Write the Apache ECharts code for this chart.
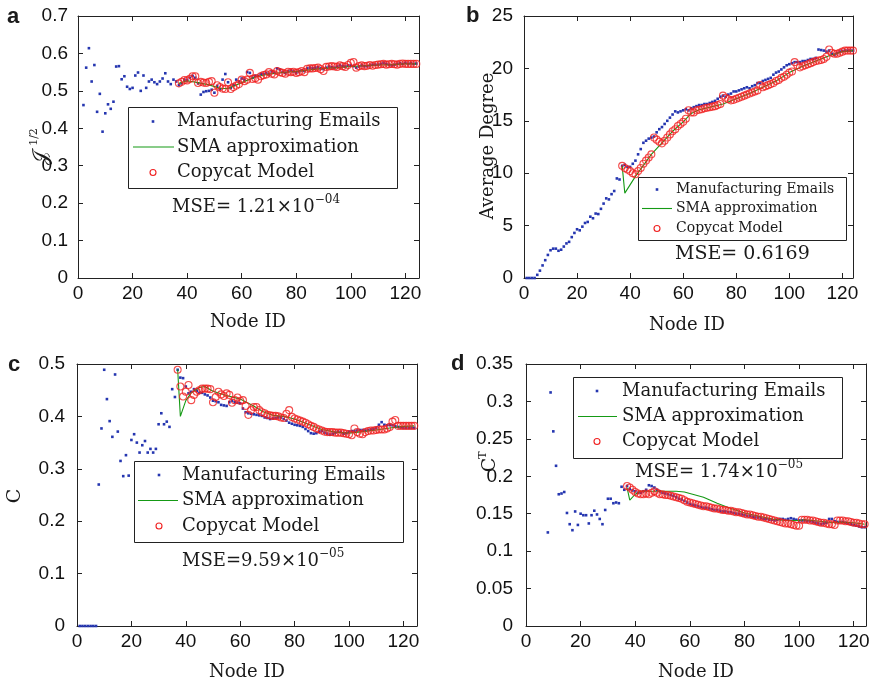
<!DOCTYPE html>
<html><head><meta charset="utf-8">
<script src="https://cdn.jsdelivr.net/npm/echarts@6/dist/echarts.min.js"></script>
<style>html,body{margin:0;padding:0;background:#fff}#c{width:873px;height:685px}</style>
</head><body><div id="c"></div>
<script>
// ---------- Panel a : J^{1/2} ----------
const aEmailStart = 2;
const aEmails = [0.462,0.562,0.614,0.525,0.569,0.444,0.492,0.391,0.440,0.464,0.452,0.471,0.565,0.566,0.531,0.539,0.511,0.505,0.508,0.541,0.549,0.500,0.541,0.508,0.525,0.530,0.523,0.518,0.525,0.533,0.547,0.525,0.518,0.530,0.525,
  0.515,0.520,0.530,0.528,0.535,0.540,0.535,0.520,0.490,0.497,
  0.499,0.500,0.503,0.495,0.513,0.505,0.530,0.545,0.523,0.508,
  0.515,0.530,0.525,0.533,0.530,0.550,0.548,0.535,0.540,0.540,
  0.545,0.545,0.548,0.545,0.552,0.548,0.560,0.557,0.550,0.548,
  0.552,0.555,0.552,0.548,0.552,0.555,0.553,0.560,0.562,0.560,
  0.562,0.563,0.560,0.558,0.562,0.565,0.563,0.562,0.565,0.568,
  0.566,0.565,0.568,0.568,0.566,0.562,0.565,0.568,0.566,0.566,
  0.568,0.570,0.570,0.570,0.572,0.575,0.572,0.570,0.568,0.570,
  0.572,0.574,0.572,0.575,0.572,0.574,0.572,0.573];
const aCopyStart = 37;
const aCopycat = [0.520,0.524,0.529,0.528,0.532,0.539,0.539,0.521,0.524,0.522,
  0.521,0.524,0.526,0.495,0.515,0.510,0.506,0.505,0.523,0.505,
  0.510,0.514,0.518,0.530,0.526,0.530,0.548,0.532,0.534,0.530,
  0.539,0.542,0.544,0.550,0.546,0.544,0.553,0.550,0.548,0.546,
  0.551,0.550,0.551,0.548,0.550,0.553,0.550,0.559,0.560,0.560,
  0.561,0.562,0.558,0.553,0.564,0.565,0.566,0.565,0.564,0.568,
  0.566,0.564,0.569,0.575,0.577,0.562,0.566,0.568,0.566,0.567,
  0.569,0.567,0.569,0.570,0.571,0.572,0.570,0.571,0.572,0.571,
  0.570,0.572,0.573,0.572,0.572,0.572,0.572,0.572];
const aSmaNodes = [37,40,44,48,52,55,60,65,70,75,80,85,90,95,100,105,110,115,120,124];
const aSma = [0.520,0.527,0.522,0.516,0.507,0.506,0.522,0.537,0.545,0.549,0.552,0.556,0.560,0.562,0.565,0.567,0.569,0.570,0.572,0.572];

// ---------- Panel b : Average Degree ----------
const bEmailStart = 1;
const bEmails = [0,0,0,0,
  0.3,0.7,1.2,1.7,2.2,2.65,2.8,2.8,2.6,2.7,
  3.0,3.3,3.45,3.9,4.3,4.65,4.55,4.9,5.25,5.35,
  5.85,5.7,6.15,6.1,6.6,7.1,7.6,7.5,8.0,8.3,
  9.5,9.4,10.7,10.8,10.6,10.6,10.9,11.2,11.8,12.3,
  12.9,13.1,13.3,13.4,13.5,13.9,14.2,14.4,14.7,15.0,
  15.3,15.6,15.9,15.8,15.9,16.0,16.1,16.0,16.2,16.3,
  16.4,16.5,16.5,16.6,16.6,16.7,16.8,16.9,17.1,17.3,
  17.4,17.3,17.5,17.6,17.8,17.8,17.9,18.0,18.1,18.2,
  18.1,18.3,18.4,18.6,18.6,18.8,18.9,19.0,19.1,19.4,
  19.6,19.7,19.9,20.1,20.3,20.4,20.5,20.6,20.6,20.6,
  20.7,20.7,20.8,20.9,20.9,21.0,21.8,21.75,21.7,21.6,
  21.7,21.4,21.3,21.45,21.6,21.65,21.7,21.7,21.7,21.7];
const bCopyStart = 37;
const bCopycat = [10.7,10.5,10.35,10.2,10.0,9.9,10.2,10.5,10.9,11.2,
  11.5,11.8,13.4,13.2,13.0,12.85,13.1,13.4,13.7,14.0,
  14.2,14.5,14.7,14.9,15.2,16.0,15.8,15.8,16.0,16.05,
  16.1,16.2,16.25,16.3,16.35,16.4,16.5,16.6,17.4,17.2,
  17.05,16.95,17.0,17.1,17.2,17.3,17.4,17.5,17.6,17.7,
  17.8,17.9,18.4,18.2,18.3,18.4,18.5,18.6,18.8,18.9,
  19.1,19.2,19.4,19.6,19.7,20.6,20.3,20.1,20.2,20.3,
  20.4,20.5,20.6,20.7,20.75,20.8,20.9,21.1,21.8,21.5,
  21.4,21.4,21.5,21.6,21.7,21.7,21.7,21.7];
const bSmaNodes = [37,38,42,48,52,56,60,63,66,70,75,80,85,90,95,100,105,110,115,120,124];
const bSma = [10.7,8.1,9.7,11.8,12.9,14.0,14.9,15.7,16.05,16.3,16.6,17.1,17.6,18.2,18.8,19.6,20.2,20.7,21.2,21.6,21.7];

// ---------- Panel c : C ----------
const cEmailStart = 1;
const cEmails = [0,0,0,0,0,0,0,
  0.270,0.377,0.489,0.433,0.391,0.361,0.480,0.371,0.315,0.286,
  0.326,0.287,0.355,0.366,0.350,0.331,0.345,0.353,0.331,0.338,
  0.331,0.338,0.385,0.406,0.385,0.390,0.380,0.452,0.437,0.489,
  0.474,0.473,0.457,0.444,0.447,0.452,0.449,0.445,0.445,0.442,
  0.440,0.436,0.430,0.429,0.427,0.422,0.421,0.420,0.427,0.430,
  0.427,0.426,0.425,0.415,0.408,0.406,0.405,0.404,0.403,0.402,
  0.401,0.398,0.397,0.395,0.396,0.397,0.398,0.398,0.395,0.392,
  0.388,0.386,0.384,0.383,0.382,0.380,0.376,0.372,0.368,0.367,
  0.368,0.371,0.372,0.369,0.367,0.365,0.367,0.369,0.371,0.370,
  0.367,0.368,0.371,0.372,0.372,0.373,0.374,0.374,0.373,0.374,
  0.375,0.376,0.378,0.384,0.389,0.384,0.383,0.384,0.383,0.381,
  0.380,0.379,0.378,0.378,0.378,0.378,0.378];
const cCopyStart = 37;
const cCopycat = [0.489,0.457,0.438,0.447,0.460,0.431,0.441,0.447,0.450,0.453,
  0.453,0.453,0.452,0.427,0.437,0.447,0.442,0.439,0.444,0.441,
  0.426,0.431,0.436,0.430,0.431,0.420,0.403,0.412,0.418,0.418,
  0.412,0.408,0.406,0.403,0.402,0.401,0.401,0.400,0.398,0.397,
  0.405,0.412,0.399,0.396,0.394,0.392,0.390,0.388,0.385,0.382,
  0.380,0.377,0.375,0.373,0.371,0.370,0.370,0.370,0.369,0.369,
  0.369,0.368,0.367,0.366,0.364,0.377,0.370,0.367,0.366,0.370,
  0.372,0.373,0.373,0.374,0.375,0.375,0.375,0.377,0.380,0.390,
  0.393,0.382,0.382,0.382,0.382,0.382,0.382,0.382];
const cSmaNodes = [37,38,40,42,45,47,50,55,60,63,65,68,72,76,80,85,90,95,100,105,110,115,120,124];
const cSma = [0.490,0.400,0.430,0.445,0.455,0.457,0.448,0.440,0.433,0.425,0.420,0.410,0.402,0.400,0.395,0.385,0.375,0.370,0.368,0.371,0.374,0.378,0.381,0.382];

// ---------- Panel d : C^T ----------
const dEmailStart = 8;
const dEmails = [0.125,0.312,0.260,0.214,0.176,0.177,0.179,0.151,0.136,0.128,
  0.153,0.135,0.150,0.148,0.148,0.137,0.148,0.154,0.149,0.143,
  0.136,0.155,0.170,0.170,0.164,0.165,0.164,0.186,0.182,
  0.187,0.183,0.181,0.180,0.178,0.178,0.180,0.182,0.188,0.187,
  0.185,0.182,0.180,0.178,0.177,0.176,0.175,0.174,0.172,0.170,
  0.169,0.167,0.165,0.163,0.162,0.161,0.160,0.159,0.158,0.158,
  0.157,0.156,0.155,0.155,0.154,0.153,0.153,0.152,0.152,0.151,
  0.150,0.150,0.149,0.148,0.147,0.147,0.146,0.145,0.145,0.144,
  0.143,0.143,0.142,0.142,0.141,0.142,0.143,0.143,0.142,0.143,
  0.144,0.143,0.142,0.141,0.141,0.141,0.140,0.140,0.139,0.138,
  0.137,0.136,0.137,0.138,0.143,0.143,0.140,0.139,0.139,0.139,
  0.138,0.137,0.136,0.135,0.134,0.133,0.132,0.132];
const dCopyStart = 37;
const dCopycat = [0.187,0.185,0.182,0.179,0.177,0.176,0.176,0.177,0.176,0.178,
  0.180,0.178,0.176,0.176,0.175,0.175,0.174,0.173,0.172,0.171,
  0.170,0.168,0.166,0.165,0.164,0.163,0.162,0.161,0.160,0.160,
  0.159,0.158,0.157,0.157,0.156,0.155,0.155,0.154,0.154,0.153,
  0.152,0.152,0.151,0.150,0.149,0.149,0.148,0.147,0.146,0.146,
  0.145,0.144,0.143,0.142,0.141,0.140,0.139,0.138,0.137,0.137,
  0.136,0.135,0.134,0.134,0.142,0.142,0.142,0.141,0.141,0.140,
  0.139,0.138,0.138,0.137,0.136,0.136,0.135,0.141,0.141,0.141,
  0.140,0.140,0.139,0.138,0.138,0.137,0.136,0.136];
const dSmaNodes = [37,38,40,42,45,50,55,58,60,65,70,75,80,85,90,95,100,102,105,110,113,115,120,124];
const dSma = [0.185,0.168,0.176,0.180,0.180,0.180,0.180,0.179,0.177,0.172,0.164,0.157,0.151,0.147,0.143,0.141,0.141,0.142,0.141,0.139,0.138,0.139,0.138,0.136];

const xTickInterval = 20;

// ---------- layout / style ----------
const SANS = '"Liberation Sans", Arial, sans-serif';
const SERIF = '"DejaVu Serif", "Liberation Serif", serif';
const AX = '#222';
const BLUE = '#2536b0', GREEN = '#159a15', RED = '#f02020';

const panels = [
  {grid:{left:78, top:16, width:341, height:262}, xMax:125, yMax:0.7, yInt:0.1, lm:10,
   es:aEmailStart, e:aEmails, sn:aSmaNodes, s:aSma, cs:aCopyStart, c:aCopycat},
  {grid:{left:524, top:16, width:329, height:262}, xMax:124, yMax:25, yInt:5, lm:11,
   es:bEmailStart, e:bEmails, sn:bSmaNodes, s:bSma, cs:bCopyStart, c:bCopycat},
  {grid:{left:77, top:364, width:340, height:262}, xMax:125, yMax:0.5, yInt:0.1, lm:12,
   es:cEmailStart, e:cEmails, sn:cSmaNodes, s:cSma, cs:cCopyStart, c:cCopycat},
  {grid:{left:526, top:364, width:340, height:262}, xMax:124.5, yMax:0.35, yInt:0.05, lm:13,
   es:dEmailStart, e:dEmails, sn:dSmaNodes, s:dSma, cs:dCopyStart, c:dCopycat}
];

const grids = [], xAxes = [], yAxes = [], series = [];
panels.forEach((p, i) => {
  grids.push(p.grid);
  const line = {show:true, onZero:false, lineStyle:{color:AX, width:1}};
  const tick = {show:true, inside:true, length:5, lineStyle:{color:AX, width:1}};
  const lab = {fontFamily:SANS, fontSize:19, color:'#111'};
  xAxes.push({type:'value', gridIndex:i, min:0, max:p.xMax, interval:xTickInterval, position:'bottom',
    axisLine:line, axisTick:tick, splitLine:{show:false},
    axisLabel:Object.assign({margin:6, showMaxLabel:false}, lab)});
  xAxes.push({type:'value', gridIndex:i, min:0, max:p.xMax, interval:xTickInterval, position:'top',
    axisLine:line, axisTick:tick, splitLine:{show:false}, axisLabel:{show:false}});
  yAxes.push({type:'value', gridIndex:i, min:0, max:p.yMax, interval:p.yInt, position:'left',
    axisLine:line, axisTick:tick, splitLine:{show:false},
    axisLabel:Object.assign({margin:p.lm}, lab)});
  yAxes.push({type:'value', gridIndex:i, min:0, max:p.yMax, interval:p.yInt, position:'right',
    axisLine:line, axisTick:tick, splitLine:{show:false}, axisLabel:{show:false}});
  const xi = 2*i, yi = 2*i;
  series.push({type:'scatter', name:'Manufacturing Emails', xAxisIndex:xi, yAxisIndex:yi,
    symbol:'rect', symbolSize:2.6, itemStyle:{color:BLUE, opacity:1}, z:2,
    data:p.e.map((v,k)=>[p.es+k, v])});
  series.push({type:'line', name:'SMA approximation', xAxisIndex:xi, yAxisIndex:yi,
    showSymbol:false, symbol:'none', lineStyle:{color:GREEN, width:1.1}, z:3,
    data:p.sn.map((n,k)=>[n, p.s[k]])});
  series.push({type:'scatter', name:'Copycat Model', xAxisIndex:xi, yAxisIndex:yi,
    symbol:'circle', symbolSize:7, z:4,
    itemStyle:{color:'rgba(0,0,0,0)', borderColor:RED, borderWidth:1.1},
    data:p.c.map((v,k)=>[p.cs+k, v])});
});

// ---------- decorations (legend boxes, labels, annotations) ----------
const g = [];
function txt(x, y, text, font, opts) {
  g.push(Object.assign({type:'text', x:x, y:y, z:100, silent:true,
    style:Object.assign({text:text, font:font, fill:'#1a1a1a', textAlign:'left', textVerticalAlign:'middle'}, (opts||{}).style||{})},
    (opts||{}).el||{}));
}
function legend(box, tx, ys, sym, fs) {
  g.push({type:'rect', z:90, silent:true, shape:{x:box[0]+0.5, y:box[1]+0.5, width:box[2]-box[0], height:box[3]-box[1]},
    style:{fill:'#fff', stroke:'#222', lineWidth:1}});
  g.push({type:'rect', z:95, silent:true, shape:{x:sym.dot-1.3, y:ys[0]-1.3, width:2.6, height:2.6}, style:{fill:BLUE}});
  g.push({type:'line', z:95, silent:true, shape:{x1:sym.l1, y1:ys[1], x2:sym.l2, y2:ys[1]}, style:{stroke:GREEN, lineWidth:1.1}});
  g.push({type:'circle', z:95, silent:true, shape:{cx:sym.dot, cy:ys[2], r:3}, style:{fill:'none', stroke:RED, lineWidth:1.1}});
  const f = fs + 'px ' + SERIF;
  txt(tx, ys[0], 'Manufacturing Emails', f);
  txt(tx, ys[1], 'SMA approximation', f);
  txt(tx, ys[2], 'Copycat Model', f);
}
legend([128,107,397,188], 177, [121.5,147,172.5], {dot:153, l1:133, l2:174}, 18);
legend([638,177,846,240], 676, [189.5,208.5,228.5], {dot:657, l1:642, l2:672}, 14);
legend([134,461,403,542], 182, [475,500.5,526], {dot:159, l1:138, l2:178}, 18);
legend([573,377,842,458], 622, [391,416.5,441.5], {dot:597, l1:578, l2:617}, 18);

// MSE annotations
const mseRich = {m:{fontFamily:SERIF, fontSize:18, fill:'#1a1a1a', lineHeight:22, verticalAlign:'bottom'},
                 s:{fontFamily:SERIF, fontSize:12, fill:'#1a1a1a', lineHeight:12, verticalAlign:'top'}};
function mse(x, y, main, sup) {
  g.push({type:'text', x:x, y:y, z:100, silent:true,
    style:{text:'{m|'+main+'}' + (sup ? '{s|'+sup+'}' : ''), rich:mseRich, textAlign:'left', textVerticalAlign:'middle'}});
}
mse(172, 205, 'MSE= 1.21×10', '−04');
g.push({type:'text', x:675, y:254, z:100, silent:true, style:{text:'MSE= 0.6169', font:'19px '+SERIF, fill:'#1a1a1a', textAlign:'left', textVerticalAlign:'middle'}});
mse(182, 559, 'MSE=9.59×10', '−05');
mse(635, 470, 'MSE= 1.74×10', '−05');

// Panel letters
const bold = 'bold 22px ' + SANS;
txt(7, 17, 'a', bold);
txt(466, 16, 'b', bold);
txt(8, 365, 'c', bold);
txt(451, 364, 'd', bold);

// x-axis names
const nameFont = '18px ' + SERIF;
[[248,322],[687,325],[247,672],[696,672]].forEach(p => txt(p[0], p[1], 'Node ID', nameFont, {style:{textAlign:'center'}}));

// y-axis names (rotated)
function rot(x, y, text, font) {
  g.push({type:'text', x:x, y:y, rotation:Math.PI/2, z:100, silent:true,
    style:{text:text, font:font, textAlign:'center', textVerticalAlign:'middle', fill:'#1a1a1a'}});
}
rot(42, 158, '𝒥', '20px ' + SERIF);
rot(34, 137, '1/2', '11px ' + SERIF);
rot(488, 146, 'Average Degree', nameFont);
rot(15, 496, 'C', '19px ' + SERIF);
rot(490, 465, 'C', '19px ' + SERIF);
rot(483, 455, 'T', '11px ' + SERIF);

const chart = echarts.init(document.getElementById('c'), null, {renderer:'canvas'});
chart.setOption({
  animation:false, backgroundColor:'#fff',
  grid:grids, xAxis:xAxes, yAxis:yAxes, series:series, graphic:g
});
</script></body></html>
